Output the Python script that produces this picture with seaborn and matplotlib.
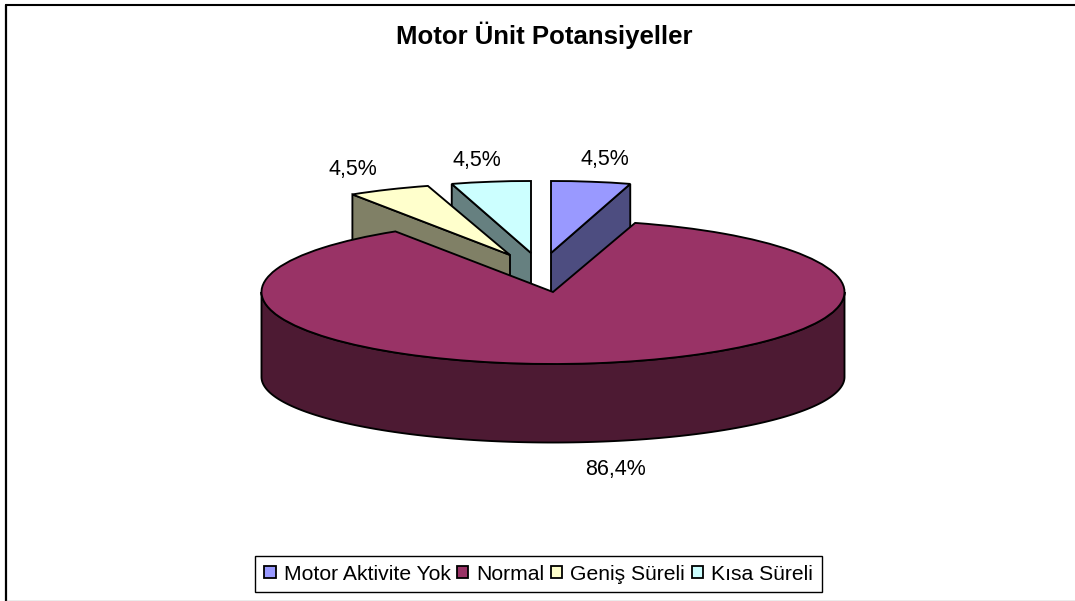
import numpy as np
import matplotlib
matplotlib.use("Agg")
import matplotlib.pyplot as plt
from matplotlib.lines import Line2D
from matplotlib.patches import Polygon
from matplotlib.transforms import Affine2D
import seaborn as sns

categories = ["Motor Aktivite Yok", "Normal", "Geniş Süreli", "Kısa Süreli"]
counts = [1, 19, 1, 1]
top_colors = ["#9999FF", "#993366", "#FFFFCC", "#CCFFFF"]
wall_colors = ["#4D4D80", "#4D1A33", "#808066", "#668080"]

W, H = 1075, 601
CX, CY, RX, RY = 553, 292, 291.5, 72
DEPTH_SIDE, RY_BOTTOM_RATIO = 85, 0.91

# slice displacement (px) and horizontal shrink for the pulled-out slices
shift_px = [(-2, -39), (0, 0), (-43, -37), (-22, -39)]
x_scale = [0.965, 1.0, 1.0, 0.965]
z_top = [4, 8, 6, 2]
label_px = [(605, 160), (616, 470), (353, 170), (477, 161)]

sns.set_theme(style="white")
plt.rcParams["font.family"] = ["Liberation Sans", "DejaVu Sans"]
EDGE = 1.35

fig = plt.figure(figsize=(W / 100, H / 100), dpi=100, facecolor="white")
ax = fig.add_axes([0, 0, 1, 1])

wedges, _, pct = ax.pie(
    counts, colors=top_colors, labels=categories, labeldistance=None,
    startangle=90, counterclock=False, radius=1,
    autopct=lambda p: f"{p:.1f}%".replace(".", ","),
    wedgeprops=dict(edgecolor="black", linewidth=EDGE),
    textprops=dict(fontsize=15.5, color="black"),
)
ax.set_aspect("auto")
ax.set_xlim(-CX / RX, (W - CX) / RX)
ax.set_ylim(-(H - CY) / RY, CY / RY)
ax.axis("off")

for i, w in enumerate(wedges):
    dx, dy = shift_px[i][0] / RX, -shift_px[i][1] / RY
    tr = Affine2D().scale(x_scale[i], 1).translate(dx, dy) + ax.transData
    w.set_transform(tr)
    w.set_zorder(z_top[i])
    if i == 1:
        continue
    mid = np.radians((w.theta1 + w.theta2) / 2)
    edge = np.radians(w.theta1 if np.cos(mid) > 0 else w.theta2)
    ex, ey = np.cos(edge), np.sin(edge)
    d = 80 / RY
    ax.add_patch(Polygon([(0, 0), (ex, ey), (ex, ey - d), (0, -d)], closed=True,
                         facecolor=wall_colors[i], edgecolor="black",
                         linewidth=EDGE, transform=tr, zorder=z_top[i] - 1))

# front wall of the big slice
t = np.radians(np.linspace(180, 360, 181))
upper = np.column_stack([np.cos(t), np.sin(t)])
lower = np.column_stack([np.cos(t)[::-1],
                         np.sin(t)[::-1] * RY_BOTTOM_RATIO - DEPTH_SIDE / RY])
ax.add_patch(Polygon(np.vstack([upper, lower]), closed=True,
                     facecolor=wall_colors[1], edgecolor="black",
                     linewidth=EDGE, zorder=z_top[1] - 1))

for txt, (px, py) in zip(pct, label_px):
    txt.set_position(((px - CX) / RX, (CY - py) / RY))
    txt.set_ha("center")
    txt.set_va("center")
    txt.set_zorder(10)

fig.text(544 / W, 1 - 35 / H, "Motor Ünit Potansiyeller", ha="center", va="center",
         fontsize=18.5, fontweight="bold", color="black")

leg = ax.legend(handles=wedges, labels=categories, loc="center",
                bbox_to_anchor=(538.5 / W, 1 - 574 / H), bbox_transform=fig.transFigure,
                ncol=4, fontsize=15.2, frameon=True, fancybox=False, framealpha=1,
                edgecolor="black", handlelength=0.55, handleheight=0.55,
                handletextpad=0.38, columnspacing=0.3, borderpad=0.42, borderaxespad=0,
                labelcolor="black")
leg.get_frame().set_linewidth(1.0)
leg.set_zorder(12)
for h in leg.legend_handles:
    h.set_linewidth(1.3)

fig.add_artist(Line2D([6 / W, 1], [1 - 4.5 / H] * 2, color="black", lw=1.5))
fig.add_artist(Line2D([6 / W] * 2, [0, 1 - 4.5 / H], color="black", lw=1.6))
fig.add_artist(Line2D([6 / W, 1], [0.5 / H] * 2, color="#999999", lw=1.0))

fig.savefig("out.png", dpi=100, facecolor="white")
